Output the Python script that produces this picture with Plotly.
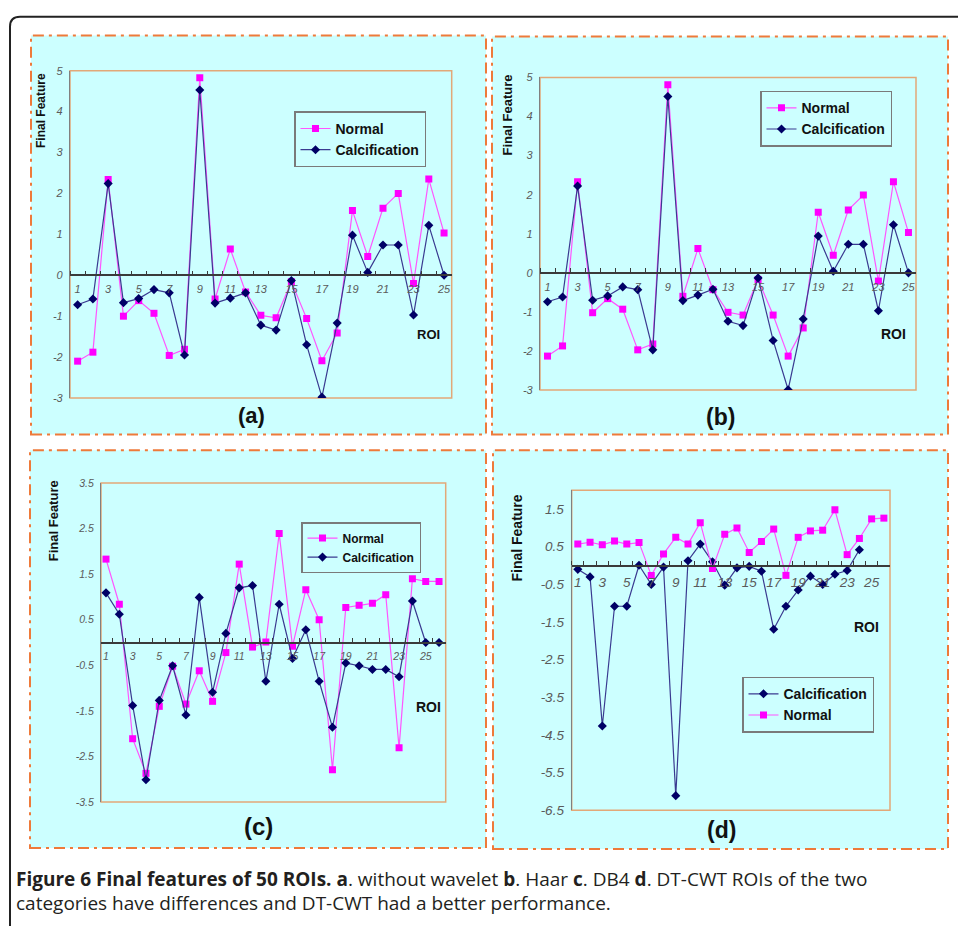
import plotly.graph_objects as go

W, H = 958, 926

# ---------------- data ----------------
roi_25 = list(range(1, 26))
roi_26 = list(range(1, 27))
roi_24 = list(range(1, 25))

normal_a = [-2.10, -1.88, 2.34, -1.00, -0.62, -0.93, -1.96, -1.81, 4.83, -0.58,
            0.64, -0.41, -0.98, -1.04, -0.16, -1.06, -2.09, -1.41, 1.58, 0.46,
            1.64, 2.00, -0.20, 2.35, 1.03]
calc_a = [-0.72, -0.58, 2.24, -0.67, -0.57, -0.35, -0.43, -1.95, 4.53, -0.68,
          -0.56, -0.43, -1.22, -1.34, -0.13, -1.70, -2.98, -1.17, 0.98, 0.07,
          0.74, 0.74, -0.97, 1.22, 0.00]

normal_b = [-2.13, -1.87, 2.33, -1.02, -0.66, -0.93, -1.97, -1.82, 4.81, -0.60,
            0.62, -0.43, -1.01, -1.08, -0.17, -1.08, -2.13, -1.41, 1.55, 0.45,
            1.61, 1.99, -0.21, 2.33, 1.03]
calc_b = [-0.74, -0.62, 2.22, -0.70, -0.59, -0.36, -0.43, -1.97, 4.51, -0.71,
          -0.57, -0.42, -1.24, -1.35, -0.13, -1.73, -2.99, -1.18, 0.94, 0.04,
          0.73, 0.73, -0.97, 1.23, 0.00]

normal_c = [1.83, 0.84, -2.11, -2.87, -1.40, -0.52, -1.35, -0.62, -1.29, -0.22,
            1.72, -0.10, 0.01, 2.39, -0.08, 1.16, 0.50, -2.79, 0.77, 0.82,
            0.86, 1.05, -2.31, 1.40, 1.34, 1.34]
calc_c = [1.09, 0.62, -1.38, -3.01, -1.27, -0.51, -1.59, 0.99, -1.09, 0.20,
          1.20, 1.25, -0.85, 0.84, -0.35, 0.28, -0.85, -1.86, -0.45, -0.51,
          -0.59, -0.59, -0.75, 0.91, 0.00, 0.00]

normal_d = [0.57, 0.62, 0.55, 0.65, 0.57, 0.61, -0.26, 0.31, 0.75, 0.57,
            1.14, -0.08, 0.83, 1.00, 0.35, 0.64, 0.97, -0.26, 0.75, 0.92,
            0.94, 1.48, 0.29, 0.72, 1.24, 1.26]
calc_d = [-0.10, -0.30, -4.26, -1.08, -1.08, 0.01, -0.50, -0.04, -6.11, 0.13,
          0.57, 0.10, -0.52, -0.06, -0.02, -0.15, -1.69, -1.08, -0.65, -0.28,
          -0.50, -0.23, -0.13, 0.42]

xtick_labels = [1, 3, 5, 7, 9, 11, 13, 15, 17, 19, 21, 23, 25]
ytick_ab = [-3, -2, -1, 0, 1, 2, 3, 4, 5]
ytick_c = [-3.5, -2.5, -1.5, -0.5, 0.5, 1.5, 2.5, 3.5]
ytick_d = [-6.5, -5.5, -4.5, -3.5, -2.5, -1.5, -0.5, 0.5, 1.5]

# ---------------- layout helpers ----------------
def fx(px):
    return px / W

def fy(py):
    return 1 - py / H

CYAN = '#CCFFFF'
ORANGE = '#EE7A3A'
TAN = '#E2A878'
PINK_LINE = '#FF55FF'
PINK_MK = '#FF00FF'
NAVY_LINE = '#3A3A90'
NAVY_MK = '#000066'

panels = [
    dict(name='a', box=(31, 30, 486, 435), plot=(70, 65.7, 451.7, 398),
         xr=[0.5, 25.5], yr=[-3, 5], yt=ytick_ab, x=roi_25, n=normal_a, c=calc_a, xc=roi_25,
         tfs=11, lfs=14, leg=(294, 107), title=(40.5, 66, 12), roi=(428, 334, 13),
         lab=(251.5, 416, 22), calc_first=False, nx=25),
    dict(name='b', box=(492, 31, 948, 435), plot=(540, 72.5, 916, 390),
         xr=[0.5, 25.5], yr=[-3, 5], yt=ytick_ab, x=roi_25, n=normal_b, c=calc_b, xc=roi_25,
         tfs=11, lfs=14, leg=(760, 86), title=(507, 68, 13), roi=(893, 333, 14),
         lab=(720, 417, 23), calc_first=False, nx=25),
    dict(name='c', box=(30, 451, 486, 855), plot=(101, 484.3, 445.7, 808.3),
         xr=[0.625, 26.5], yr=[-3.5, 3.5], yt=ytick_c, x=roi_26, n=normal_c, c=calc_c, xc=roi_26,
         tfs=10.5, lfs=12, leg=(301, 524), title=(53, 480, 13), roi=(428, 712, 14),
         lab=(258, 833, 24), calc_first=False, nx=26),
    dict(name='d', box=(493, 451, 948, 856), plot=(571.7, 491.7, 890, 816.7),
         xr=[0.5, 26.5], yr=[-6.5, 2.0], yt=ytick_d, x=roi_26, n=normal_d, c=calc_d, xc=roi_24,
         tfs=13.5, lfs=14, leg=(742, 681), title=(517.5, 494, 14), roi=(866, 631, 14),
         lab=(721, 837, 23), calc_first=True, nx=26),
]

fig = go.Figure()
shapes = []
annotations = []
layout = dict(width=W, height=H, margin=dict(l=0, r=0, t=0, b=0),
              paper_bgcolor='white', plot_bgcolor='rgba(0,0,0,0)', showlegend=True)

# outer rounded frame
r = 10
x0p, y0p = 10, 11
frame = (f"M {fx(x0p)},{fy(H + 20)} L {fx(x0p)},{fy(y0p + r)} "
         f"Q {fx(x0p)},{fy(y0p)} {fx(x0p + r)},{fy(y0p)} L {fx(W + 20)},{fy(y0p)}")
shapes.append(dict(type='path', path=frame, xref='paper', yref='paper',
                   line=dict(color='#222222', width=2), layer='below'))

def fmt(v):
    return f'{v:g}'

for i, p in enumerate(panels):
    k = i + 1
    sfx = '' if k == 1 else str(k)
    xa, ya = 'x' + sfx, 'y' + sfx
    leg = 'legend' if k == 1 else 'legend' + str(k)

    # panel background
    bx0, by0, bx1, by1 = p['box']
    shapes.append(dict(type='rect', xref='paper', yref='paper',
                       x0=fx(bx0), x1=fx(bx1), y0=fy(by1), y1=fy(by0),
                       fillcolor=CYAN, line=dict(color=ORANGE, width=2, dash='11px,5px,3px,5px'),
                       layer='below'))

    l, t, rr, b = p['plot']
    xdom = [fx(l), fx(rr)]
    ydom = [fy(b), fy(t)]
    ymin, ymax = p['yr']
    zpos = ydom[0] + (0 - ymin) / (ymax - ymin) * (ydom[1] - ydom[0])

    # plot area border
    shapes.append(dict(type='rect', xref=xa + ' domain', yref=ya + ' domain',
                       x0=0, x1=1, y0=0, y1=1, line=dict(color=TAN, width=1.5),
                       layer='below'))

    tickfont = dict(family='Liberation Sans', size=p['tfs'], color='#5a5a5a', style='italic')
    layout['xaxis' + sfx] = dict(
        domain=xdom, range=p['xr'], anchor='free', position=zpos,
        showline=True, linecolor='#3a3a3a', linewidth=1.5,
        tickmode='array', tickvals=xtick_labels, ticktext=[fmt(v) for v in xtick_labels],
        ticks='', tickfont=tickfont, showgrid=False, zeroline=False, ticklabelstandoff=4,
        minor=dict(tickvals=[v + 0.5 for v in range(p['nx'])], ticks='inside',
                   ticklen=4, tickwidth=1, tickcolor='#3a3a3a', showgrid=False),
    )
    layout['yaxis' + sfx] = dict(
        domain=ydom, range=p['yr'], anchor=xa,
        showline=True, linecolor='#808080', linewidth=1.2,
        tickmode='array', tickvals=p['yt'], ticktext=[fmt(v) for v in p['yt']],
        ticks='', tickfont=tickfont,
        showgrid=False, zeroline=False, ticklabelstandoff=4,
    )

    normal_tr = go.Scatter(x=p['x'], y=p['n'], name='Normal', mode='lines+markers',
                           line=dict(color=PINK_LINE, width=1.2),
                           marker=dict(symbol='square', size=7, color=PINK_MK),
                           xaxis=xa, yaxis=ya, legend=leg)
    calc_tr = go.Scatter(x=p['xc'], y=p['c'], name='Calcification', mode='lines+markers',
                         line=dict(color=NAVY_LINE, width=1.2),
                         marker=dict(symbol='diamond', size=7, color=NAVY_MK),
                         xaxis=xa, yaxis=ya, legend=leg)
    if p['calc_first']:
        fig.add_trace(calc_tr)
        fig.add_trace(normal_tr)
    else:
        fig.add_trace(normal_tr)
        fig.add_trace(calc_tr)

    lx, ly = p['leg']
    layout[leg] = dict(x=fx(lx), y=fy(ly), xanchor='left', yanchor='top',
                       bgcolor=CYAN, bordercolor='#7a7a7a', borderwidth=1.5,
                       font=dict(family='Liberation Sans', size=p['lfs'], color='#111111', weight='bold'),
                       traceorder='normal', itemwidth=30, tracegroupgap=0)

    # y-axis title
    tx, ty, ts = p['title']
    annotations.append(dict(text='<b>Final Feature</b>', x=fx(tx), y=fy(ty), xref='paper', yref='paper',
                            textangle=-90, xanchor='center', yanchor='top', showarrow=False,
                            font=dict(family='Liberation Sans', size=ts, color='#111111')))
    # ROI label
    rx, ry, rs = p['roi']
    annotations.append(dict(text='<b>ROI</b>', x=fx(rx), y=fy(ry), xref='paper', yref='paper',
                            xanchor='center', yanchor='middle', showarrow=False,
                            font=dict(family='Liberation Sans', size=rs, color='#111111')))
    # panel label
    ax_, ay_, as_ = p['lab']
    annotations.append(dict(text='<b>(' + p['name'] + ')</b>', x=fx(ax_), y=fy(ay_),
                            xref='paper', yref='paper', xanchor='center', yanchor='middle',
                            showarrow=False,
                            font=dict(family='Liberation Sans', size=as_, color='#111111')))

# caption
cap1 = ('<b>Figure 6 Final features of 50 ROIs. a</b>. without wavelet <b>b</b>. Haar '
        '<b>c</b>. DB4 <b>d</b>. DT-CWT ROIs of the two')
cap2 = 'categories have differences and DT-CWT had a better performance.'
for txt, yy in [(cap1, 886), (cap2, 911)]:
    annotations.append(dict(text=txt, x=fx(14), y=fy(yy), xref='paper', yref='paper',
                            xanchor='left', yanchor='middle', showarrow=False,
                            font=dict(family='Open Sans', size=19, color='#231F20')))

layout['shapes'] = shapes
layout['annotations'] = annotations
fig.update_layout(**layout)

fig.write_html('out.html', config={'displayModeBar': False},
               post_script="document.body.style.margin='0';document.body.style.overflow='hidden';")
